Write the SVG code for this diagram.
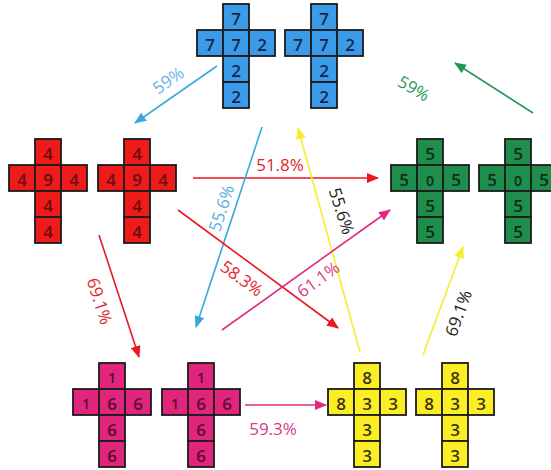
<svg xmlns="http://www.w3.org/2000/svg" xmlns:xlink="http://www.w3.org/1999/xlink" width="551" height="470" viewBox="0 0 551 470">
<style>
.cell{stroke:#1b1b1b;stroke-width:1.8}
.blue{fill:#3c9be8}.red{fill:#ee1b1b}.green{fill:#1f8e4d}.pink{fill:#df257c}.yellow{fill:#fbee25}
.num{font-family:"Open Sans","DejaVu Sans",sans-serif;font-size:17px;font-weight:600;text-anchor:middle;dominant-baseline:central}
.tb{fill:#16264c}.tr{fill:#6b0c0c}.tg{fill:#0c2c18}.tp{fill:#5c0a2c}.ty{fill:#3a3510}
.lbl{font-family:"Open Sans","DejaVu Sans",sans-serif;font-size:17px;text-anchor:middle;dominant-baseline:central}
.ln{fill:none;stroke-width:1.6}
</style>
<defs>
<g id="cross" class="cell">
<rect x="26" y="0" width="26" height="26"/>
<rect x="0" y="26" width="26" height="26"/>
<rect x="26" y="26" width="26" height="26"/>
<rect x="52" y="26" width="26" height="26"/>
<rect x="26" y="52" width="26" height="26"/>
<rect x="26" y="78" width="26" height="26"/>
</g>
<marker id="m-blue" viewBox="0 0 12 10" refX="11" refY="5" markerWidth="12" markerHeight="10" markerUnits="userSpaceOnUse" orient="auto"><path d="M0,0 L12,5 L0,10 z" fill="#38a8de"/></marker>
<marker id="m-green" viewBox="0 0 12 10" refX="11" refY="5" markerWidth="12" markerHeight="10" markerUnits="userSpaceOnUse" orient="auto"><path d="M0,0 L12,5 L0,10 z" fill="#23975a"/></marker>
<marker id="m-red" viewBox="0 0 12 10" refX="11" refY="5" markerWidth="12" markerHeight="10" markerUnits="userSpaceOnUse" orient="auto"><path d="M0,0 L12,5 L0,10 z" fill="#ea1620"/></marker>
<marker id="m-pink" viewBox="0 0 12 10" refX="11" refY="5" markerWidth="12" markerHeight="10" markerUnits="userSpaceOnUse" orient="auto"><path d="M0,0 L12,5 L0,10 z" fill="#e0287e"/></marker>
<marker id="m-yellow" viewBox="0 0 12 10" refX="11" refY="5" markerWidth="12" markerHeight="10" markerUnits="userSpaceOnUse" orient="auto"><path d="M0,0 L12,5 L0,10 z" fill="#f6ee2a"/></marker>
</defs>

<g id="connectors">
<line class="ln" x1="217" y1="66" x2="135" y2="123" stroke="#38a8de" marker-end="url(#m-blue)"/>
<line class="ln" x1="533" y1="113" x2="455" y2="63" stroke="#23975a" marker-end="url(#m-green)"/>
<line class="ln" x1="193" y1="178" x2="378" y2="178" stroke="#ea1620" marker-end="url(#m-red)"/>
<line class="ln" x1="262" y1="127" x2="196" y2="327" stroke="#38a8de" marker-end="url(#m-blue)"/>
<line class="ln" x1="360" y1="352" x2="298" y2="128" stroke="#f6ee2a" marker-end="url(#m-yellow)"/>
<line class="ln" x1="178" y1="210" x2="338" y2="328" stroke="#ea1620" marker-end="url(#m-red)"/>
<line class="ln" x1="222" y1="330" x2="390" y2="210" stroke="#e0287e" marker-end="url(#m-pink)"/>
<line class="ln" x1="99" y1="235" x2="139" y2="357" stroke="#ea1620" marker-end="url(#m-red)"/>
<line class="ln" x1="423" y1="355" x2="463" y2="247" stroke="#f6ee2a" marker-end="url(#m-yellow)"/>
<line class="ln" x1="245" y1="405" x2="326" y2="405" stroke="#e0287e" marker-end="url(#m-pink)"/>
<text class="lbl" fill="#6cb4e2" transform="translate(168,80) rotate(-35)">59%</text>
<text class="lbl" fill="#2a9a5c" transform="translate(414,88) rotate(30)">59%</text>
<text class="lbl" fill="#e3242b" x="280" y="164">51.8%</text>
<text class="lbl" fill="#5eaee0" transform="translate(221,208) rotate(-72)">55.6%</text>
<text class="lbl" fill="#222222" transform="translate(342,211) rotate(72)">55.6%</text>
<text class="lbl" fill="#e3242b" transform="translate(242,278) rotate(36)">58.3%</text>
<text class="lbl" fill="#d83a86" transform="translate(318,279) rotate(-36)">61.1%</text>
<text class="lbl" fill="#e3242b" transform="translate(100,301) rotate(72)">69.1%</text>
<text class="lbl" fill="#222222" transform="translate(458,313) rotate(-70)">69.1%</text>
<text class="lbl" fill="#d83a86" x="273" y="428">59.3%</text>
</g>

<g id="blue1" transform="translate(197,4)"><use href="#cross" class="blue"/>
<g class="num tb"><text x="39" y="14">7</text><text x="13" y="40">7</text><text x="39" y="40">7</text><text x="65" y="40">2</text><text x="39" y="66">2</text><text x="39" y="92">2</text></g></g>
<g id="blue2" transform="translate(285,4)"><use href="#cross" class="blue"/>
<g class="num tb"><text x="39" y="14">7</text><text x="13" y="40">7</text><text x="39" y="40">7</text><text x="65" y="40">2</text><text x="39" y="66">2</text><text x="39" y="92">2</text></g></g>

<g id="red1" transform="translate(9,139)"><use href="#cross" class="red"/>
<g class="num tr"><text x="39" y="14">4</text><text x="13" y="40">4</text><text x="39" y="40">9</text><text x="65" y="40">4</text><text x="39" y="66">4</text><text x="39" y="92">4</text></g></g>
<g id="red2" transform="translate(98,139)"><use href="#cross" class="red"/>
<g class="num tr"><text x="39" y="14">4</text><text x="13" y="40">4</text><text x="39" y="40">9</text><text x="65" y="40">4</text><text x="39" y="66">4</text><text x="39" y="92">4</text></g></g>

<g id="green1" transform="translate(391,139)"><use href="#cross" class="green"/>
<g class="num tg"><text x="39" y="14">5</text><text x="13" y="40">5</text><text x="39" y="41" style="font-size:14px">0</text><text x="65" y="40">5</text><text x="39" y="66">5</text><text x="39" y="92">5</text></g></g>
<g id="green2" transform="translate(479,139)"><use href="#cross" class="green"/>
<g class="num tg"><text x="39" y="14">5</text><text x="13" y="40">5</text><text x="39" y="41" style="font-size:14px">0</text><text x="65" y="40">5</text><text x="39" y="66">5</text><text x="39" y="92">5</text></g></g>

<g id="pink1" transform="translate(73,363)"><use href="#cross" class="pink"/>
<g class="num tp"><text x="39" y="14" style="font-size:14px">1</text><text x="13" y="40" style="font-size:14px">1</text><text x="39" y="40">6</text><text x="65" y="40">6</text><text x="39" y="66">6</text><text x="39" y="92">6</text></g></g>
<g id="pink2" transform="translate(162,363)"><use href="#cross" class="pink"/>
<g class="num tp"><text x="39" y="14" style="font-size:14px">1</text><text x="13" y="40" style="font-size:14px">1</text><text x="39" y="40">6</text><text x="65" y="40">6</text><text x="39" y="66">6</text><text x="39" y="92">6</text></g></g>

<g id="yellow1" transform="translate(328,363)"><use href="#cross" class="yellow"/>
<g class="num ty"><text x="39" y="14">8</text><text x="13" y="40">8</text><text x="39" y="40">3</text><text x="65" y="40">3</text><text x="39" y="66">3</text><text x="39" y="92">3</text></g></g>
<g id="yellow2" transform="translate(416,363)"><use href="#cross" class="yellow"/>
<g class="num ty"><text x="39" y="14">8</text><text x="13" y="40">8</text><text x="39" y="40">3</text><text x="65" y="40">3</text><text x="39" y="66">3</text><text x="39" y="92">3</text></g></g>
</svg>
